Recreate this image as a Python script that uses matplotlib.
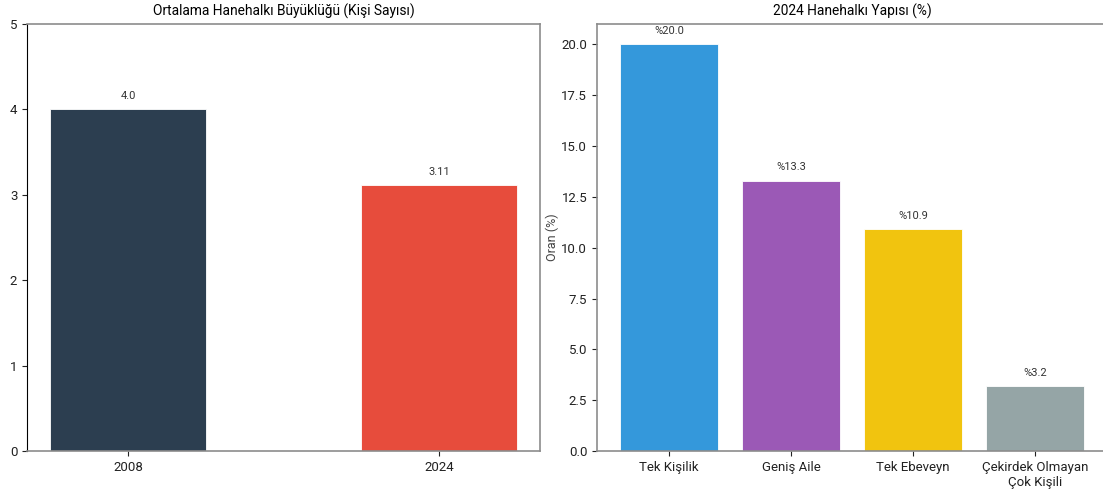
import matplotlib
matplotlib.use("Agg")
import matplotlib.pyplot as plt

plt.rcParams['font.family'] = ['Roboto', 'DejaVu Sans']

# ortalama hanehalkı büyüklüğü
years = ['2008', '2024']
sizes = [4.0, 3.11]
size_labels = ['4.0', '3.11']
size_colors = ['#2c3e50', '#e74c3c']

# 2024 hanehalkı yapısı
types = ['Tek Kişilik', 'Geniş Aile', 'Tek Ebeveyn', 'Çekirdek Olmayan\nÇok Kişili']
shares = [20.0, 13.3, 10.9, 3.2]
type_colors = ['#3498db', '#9b59b6', '#f1c40f', '#95a5a6']

fig = plt.figure(figsize=(11.03, 4.91), dpi=100)
ax1 = fig.add_axes([27 / 1103, 40 / 491, 513 / 1103, 427 / 491])
ax2 = fig.add_axes([597 / 1103, 40 / 491, 510 / 1103, 427 / 491])

spine_gray = '#8c8c8c'

# sol grafik
bars = ax1.bar(years, sizes, width=0.5, color=size_colors, edgecolor='white', linewidth=0.6)
for b, lab in zip(bars, size_labels):
    ax1.annotate(lab, (b.get_x() + b.get_width() / 2, b.get_height()),
                 xytext=(0, 6), textcoords='offset points',
                 ha='center', va='bottom', fontsize=8, color='#333333')
ax1.set_ylim(0, 5)
ax1.set_yticks([0, 1, 2, 3, 4, 5])
ax1.set_title('Ortalama Hanehalkı Büyüklüğü (Kişi Sayısı)', fontsize=9.9, pad=6)
for s in ['top', 'right', 'bottom']:
    ax1.spines[s].set_color(spine_gray)
    ax1.spines[s].set_linewidth(1.2)
ax1.spines['left'].set_color('black')
ax1.tick_params(labelsize=9.5, colors='#222222')

# sağ grafik (sağ kenar görüntü dışında kalıyor)
bars = ax2.bar(types, shares, width=0.8, color=type_colors, edgecolor='white', linewidth=0.6)
for b, v in zip(bars, shares):
    ax2.annotate(f'%{v:.1f}', (b.get_x() + b.get_width() / 2, b.get_height()),
                 xytext=(0, 6), textcoords='offset points',
                 ha='center', va='bottom', fontsize=8, color='#333333')
ax2.set_title('2024 Hanehalkı Yapısı (%)', fontsize=9.9, pad=6)
ax2.set_ylabel('Oran (%)', fontsize=9, color='#444444', labelpad=2)
for s in ax2.spines.values():
    s.set_color(spine_gray)
    s.set_linewidth(1.2)
ax2.spines['right'].set_visible(False)
ax2.tick_params(labelsize=9.5, colors='#222222')

fig.savefig('out.png', dpi=100)
